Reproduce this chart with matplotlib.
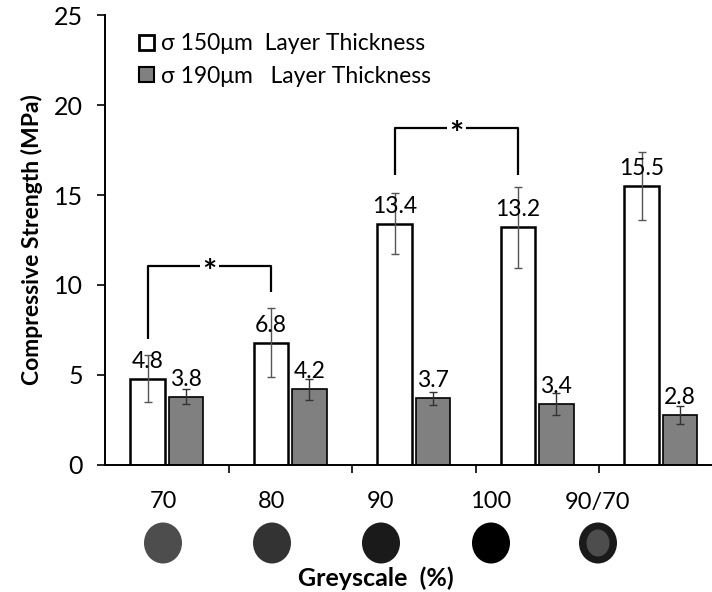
import matplotlib
matplotlib.use("Agg")
import matplotlib.pyplot as plt
import numpy as np
from matplotlib.patches import Patch, Ellipse

plt.rcParams['font.family'] = ['Lato', 'DejaVu Sans']

# data
categories = ['70', '80', '90', '100', '90/70']
strength_150 = [4.8, 6.8, 13.4, 13.2, 15.5]
err_150 = [1.3, 1.9, 1.7, 2.25, 1.9]
strength_190 = [3.8, 4.2, 3.7, 3.4, 2.8]
err_190 = [0.43, 0.6, 0.35, 0.6, 0.5]
legend_labels = ['σ 150μm  Layer Thickness', 'σ 190μm   Layer Thickness']
swatch_grey = ['#4d4d4d', '#333333', '#1a1a1a', '#000000', '#1a1a1a']
# (pair of bar indices, bracket height, leg bottoms)
sig_pairs = [((0, 1), 11.05, (7.0, 9.6)), ((2, 3), 18.7, (16.1, 16.1))]

W, H = 712, 592
fig = plt.figure(figsize=(W / 100, H / 100), dpi=100)
ax = fig.add_axes([105 / W, (H - 465) / H, (W - 105) / W, 450 / H])

x = np.arange(len(categories))
bw = 0.28
off = 0.155
ax.bar(x - off, strength_150, bw, color='white', edgecolor='black', linewidth=1.8, zorder=2)
ax.bar(x + off, strength_190, bw, color='#808080', edgecolor='black', linewidth=1.2, zorder=2)
ax.errorbar(x - off, strength_150, yerr=err_150, fmt='none', ecolor='#555555',
            elinewidth=1, capsize=3, capthick=1, zorder=3)
ax.errorbar(x + off, strength_190, yerr=err_190, fmt='none', ecolor='#333333',
            elinewidth=1, capsize=3, capthick=1, zorder=3)

for xi, v in zip(x - off, strength_150):
    ax.annotate(f'{v:.1f}', (xi, v), xytext=(0, 5), textcoords='offset points',
                ha='center', va='bottom', fontsize=16.5, zorder=4)
for xi, v in zip(x + off, strength_190):
    ax.annotate(f'{v:.1f}', (xi, v), xytext=(0, 5), textcoords='offset points',
                ha='center', va='bottom', fontsize=16.5, zorder=4)

# significance brackets
for (i, j), top, (b1, b2) in sig_pairs:
    x1, x2 = x[i] - off, x[j] - off
    xm = (x1 + x2) / 2
    gap = 0.075
    ax.plot([x1, x1, xm - gap], [b1, top, top], color='black', lw=1.6, solid_capstyle='butt')
    ax.plot([xm + gap, x2, x2], [top, top, b2], color='black', lw=1.6, solid_capstyle='butt')
    ax.text(xm, top - 1.2, '*', ha='center', va='bottom', fontsize=24, fontweight='bold')

ax.set_xlim(-0.5, -0.5 + (W - 105) / 123.5)
ax.set_ylim(0, 25)
ax.set_yticks(range(0, 26, 5))
ax.set_xticks(np.arange(0.5, 4.0, 1.0))
ax.set_xticklabels([])
ax.tick_params(axis='y', direction='out', length=6, width=1.2, labelsize=18, pad=10)
ax.tick_params(axis='x', direction='out', length=6, width=1.2)
for s in ['top', 'right']:
    ax.spines[s].set_visible(False)
for s in ['left', 'bottom']:
    ax.spines[s].set_linewidth(1.4)
ax.set_ylabel('Compressive Strength (MPa)', fontsize=16.5, fontweight='bold', labelpad=8)

handles = [Patch(facecolor='white', edgecolor='black', linewidth=2.0),
           Patch(facecolor='#808080', edgecolor='black', linewidth=1.5)]
ax.legend(handles, legend_labels, loc='upper left', bbox_to_anchor=(0.022, 1.005),
          frameon=False, fontsize=16.5, handlelength=0.65, handleheight=0.65,
          handletextpad=0.3, labelspacing=0.5)

# overlay in pixel coordinates for the greyscale swatches
ov = fig.add_axes([0, 0, 1, 1], zorder=-1)
ov.set_xlim(0, W)
ov.set_ylim(H, 0)
ov.axis('off')
label_x = [163, 272, 381, 491, 598]
for lx, lab, c in zip(label_x, categories, swatch_grey):
    ov.text(lx, 502, lab, ha='center', va='center', fontsize=17)
    ov.add_patch(Ellipse((lx, 543), 38, 41, facecolor=c, edgecolor='none'))
ov.add_patch(Ellipse((label_x[-1], 543), 23, 27, facecolor='#4d4d4d', edgecolor='none'))
ov.text(376, 578, 'Greyscale  (%)', ha='center', va='center', fontsize=18, fontweight='bold')

fig.savefig('out.png', dpi=100)
